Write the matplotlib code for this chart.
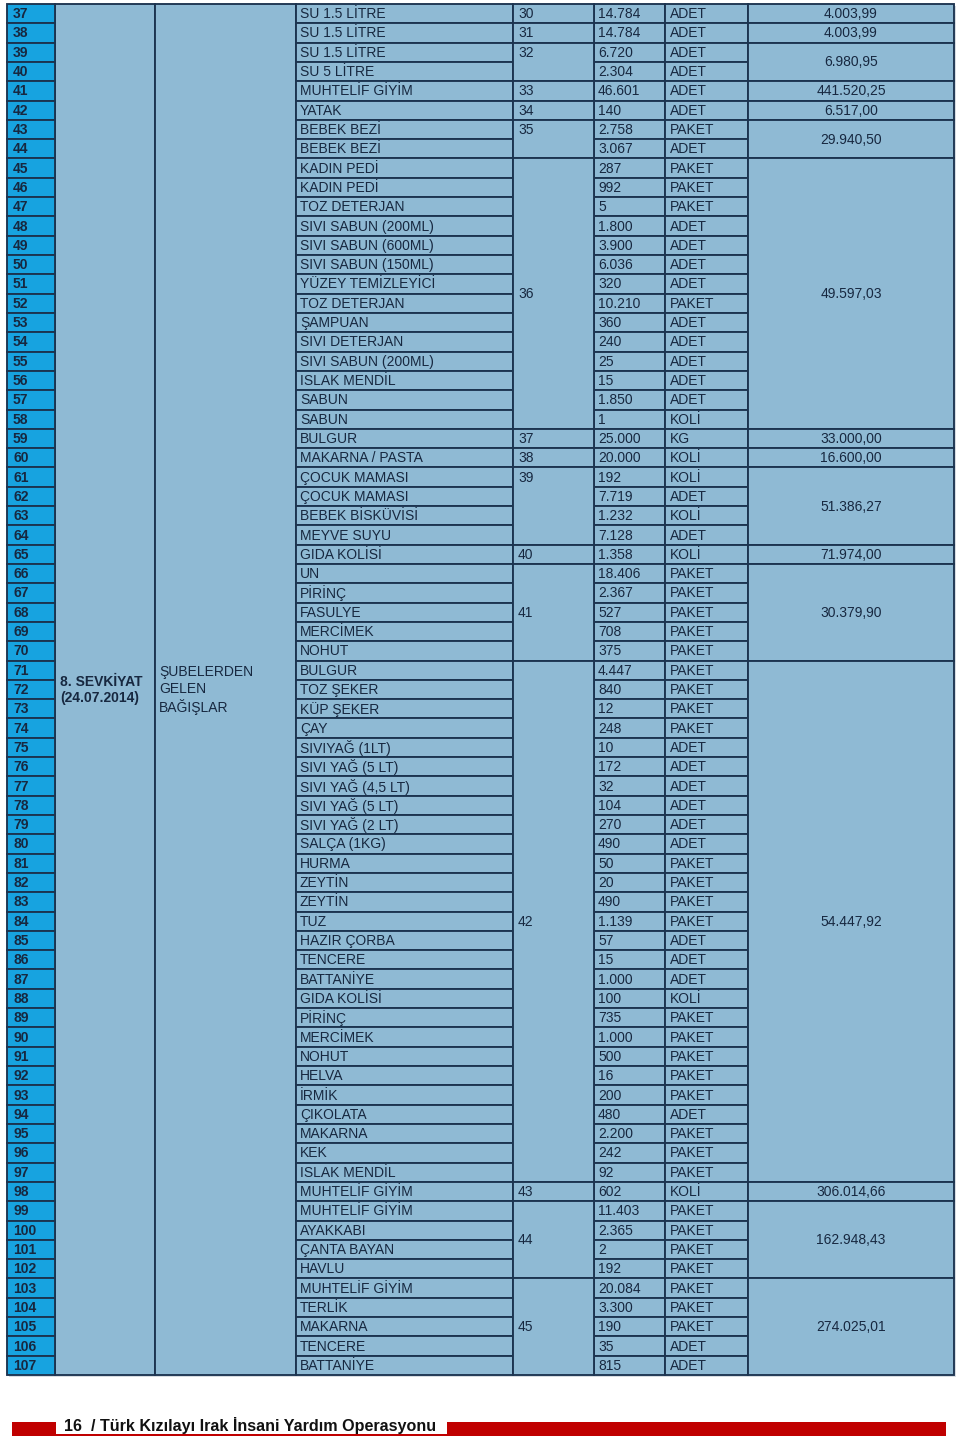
import matplotlib.pyplot as plt
from matplotlib.patches import Rectangle

plt.rcParams['font.family'] = ['Liberation Sans', 'DejaVu Sans']

# ---------------------------------------------------------------- data
row_numbers = list(range(37, 108))

items = ["SU 1.5 LİTRE", "SU 1.5 LİTRE", "SU 1.5 LİTRE", "SU 5 LİTRE", "MUHTELİF GİYİM",
         "YATAK", "BEBEK BEZİ", "BEBEK BEZİ", "KADIN PEDİ", "KADIN PEDİ",
         "TOZ DETERJAN", "SIVI SABUN (200ML)", "SIVI SABUN (600ML)", "SIVI SABUN (150ML)",
         "YÜZEY TEMİZLEYİCİ", "TOZ DETERJAN", "ŞAMPUAN", "SIVI DETERJAN",
         "SIVI SABUN (200ML)", "ISLAK MENDİL", "SABUN", "SABUN", "BULGUR",
         "MAKARNA / PASTA", "ÇOCUK MAMASI", "ÇOCUK MAMASI", "BEBEK BİSKÜVİSİ",
         "MEYVE SUYU", "GIDA KOLİSİ", "UN", "PİRİNÇ", "FASULYE", "MERCİMEK", "NOHUT",
         "BULGUR", "TOZ ŞEKER", "KÜP ŞEKER", "ÇAY", "SIVIYAĞ (1LT)", "SIVI YAĞ (5 LT)",
         "SIVI YAĞ (4,5 LT)", "SIVI YAĞ (5 LT)", "SIVI YAĞ (2 LT)", "SALÇA (1KG)",
         "HURMA", "ZEYTİN", "ZEYTİN", "TUZ", "HAZIR ÇORBA", "TENCERE", "BATTANİYE",
         "GIDA KOLİSİ", "PİRİNÇ", "MERCİMEK", "NOHUT", "HELVA", "İRMİK", "ÇIKOLATA",
         "MAKARNA", "KEK", "ISLAK MENDİL", "MUHTELİF GİYİM", "MUHTELİF GİYİM",
         "AYAKKABI", "ÇANTA BAYAN", "HAVLU", "MUHTELİF GİYİM", "TERLİK", "MAKARNA",
         "TENCERE", "BATTANİYE"]

quantities = ["14.784", "14.784", "6.720", "2.304", "46.601", "140", "2.758", "3.067",
              "287", "992", "5", "1.800", "3.900", "6.036", "320", "10.210", "360", "240",
              "25", "15", "1.850", "1", "25.000", "20.000", "192", "7.719", "1.232",
              "7.128", "1.358", "18.406", "2.367", "527", "708", "375", "4.447", "840",
              "12", "248", "10", "172", "32", "104", "270", "490", "50", "20", "490",
              "1.139", "57", "15", "1.000", "100", "735", "1.000", "500", "16", "200",
              "480", "2.200", "242", "92", "602", "11.403", "2.365", "2", "192",
              "20.084", "3.300", "190", "35", "815"]

units = ["ADET", "ADET", "ADET", "ADET", "ADET", "ADET", "PAKET", "ADET", "PAKET", "PAKET",
         "PAKET", "ADET", "ADET", "ADET", "ADET", "PAKET", "ADET", "ADET", "ADET", "ADET",
         "ADET", "KOLİ", "KG", "KOLİ", "KOLİ", "ADET", "KOLİ", "ADET", "KOLİ", "PAKET",
         "PAKET", "PAKET", "PAKET", "PAKET", "PAKET", "PAKET", "PAKET", "PAKET", "ADET",
         "ADET", "ADET", "ADET", "ADET", "ADET", "PAKET", "PAKET", "PAKET", "PAKET",
         "ADET", "ADET", "ADET", "KOLİ", "PAKET", "PAKET", "PAKET", "PAKET", "PAKET",
         "ADET", "PAKET", "PAKET", "PAKET", "KOLİ", "PAKET", "PAKET", "PAKET", "PAKET",
         "PAKET", "PAKET", "PAKET", "ADET", "ADET"]

# truck / group numbers: label, number of rows, label at top row?
group_labels = ["30", "31", "32", "33", "34", "35", "36", "37", "38", "39", "40", "41",
                "42", "43", "44", "45"]
group_spans = [1, 1, 2, 1, 1, 2, 14, 1, 1, 4, 1, 5, 27, 1, 4, 5]
group_top = [False, False, True, False, False, True, False, False, False, True,
             False, False, False, False, False, False]
group_totals = ["4.003,99", "4.003,99", "6.980,95", "441.520,25", "6.517,00",
                "29.940,50", "49.597,03", "33.000,00", "16.600,00", "51.386,27",
                "71.974,00", "30.379,90", "54.447,92", "306.014,66", "162.948,43",
                "274.025,01"]

shipment = "8. SEVKİYAT\n(24.07.2014)"
source = "ŞUBELERDEN\nGELEN\nBAĞIŞLAR"
footer = "16  / Türk Kızılayı Irak İnsani Yardım Operasyonu"

# ---------------------------------------------------------------- layout
col_x = [7, 55, 155, 296, 513, 594, 665, 748, 954]
top = 4
row_h = 19.31
n = len(row_numbers)

fill = "#8fbad4"
fill_num = "#17a3e0"
edge = "#1c3450"
txt = "#172840"
lw = 1.35
fs = 10

fig = plt.figure(figsize=(9.6, 14.39), dpi=100)
ax = fig.add_axes([0, 0, 1, 1])
ax.set_xlim(0, 960)
ax.set_ylim(1439, 0)
ax.axis("off")


def cell(c0, c1, r0, nr, color):
    ax.add_patch(Rectangle((col_x[c0], top + r0 * row_h), col_x[c1] - col_x[c0],
                           nr * row_h, facecolor=color, edgecolor=edge, linewidth=lw))


def ymid(r0, nr=1):
    return top + (r0 + nr / 2) * row_h + 0.5


# light shadow
ax.add_patch(Rectangle((col_x[0] + 2, top + 2), col_x[-1] - col_x[0], n * row_h,
                       facecolor="#d8dde2", edgecolor="none"))

# spanning columns
cell(1, 2, 0, n, fill)
cell(2, 3, 0, n, fill)
ax.text(col_x[1] + 5, ymid(0, n), shipment, fontsize=fs, fontweight="bold", color=txt,
        ha="left", va="center", linespacing=1.25)
ax.text(col_x[2] + 4, ymid(0, n), source, fontsize=fs, color=txt,
        ha="left", va="center", linespacing=1.25)

for i in range(n):
    cell(0, 1, i, 1, fill_num)
    ax.text(col_x[0] + 6, ymid(i), str(row_numbers[i]), fontsize=fs, fontweight="bold",
            color=txt, ha="left", va="center")
    cell(3, 4, i, 1, fill)
    ax.text(col_x[3] + 4, ymid(i), items[i], fontsize=fs, color=txt, ha="left", va="center")
    cell(5, 6, i, 1, fill)
    ax.text(col_x[5] + 4, ymid(i), quantities[i], fontsize=fs, color=txt, ha="left",
            va="center")
    cell(6, 7, i, 1, fill)
    ax.text(col_x[6] + 5, ymid(i), units[i], fontsize=fs, color=txt, ha="left",
            va="center")

r = 0
for lab, span, at_top, tot in zip(group_labels, group_spans, group_top, group_totals):
    cell(4, 5, r, span, fill)
    y = ymid(r) if at_top else ymid(r, span)
    ax.text(col_x[4] + 5, y, lab, fontsize=fs, color=txt, ha="left", va="center")
    cell(7, 8, r, span, fill)
    ax.text((col_x[7] + col_x[8]) / 2, ymid(r, span), tot, fontsize=fs, color=txt,
            ha="center", va="center")
    r += span

# footer band
ax.add_patch(Rectangle((12, 1422), 934, 14, facecolor="#c00000", edgecolor="none"))
ax.add_patch(Rectangle((56, 1420), 391, 14, facecolor="white", edgecolor="none"))
ax.text(64, 1425.5, footer, fontsize=11.6, fontweight="bold", color="#111111",
        ha="left", va="center")

fig.savefig("out.png", dpi=100, facecolor="white")
